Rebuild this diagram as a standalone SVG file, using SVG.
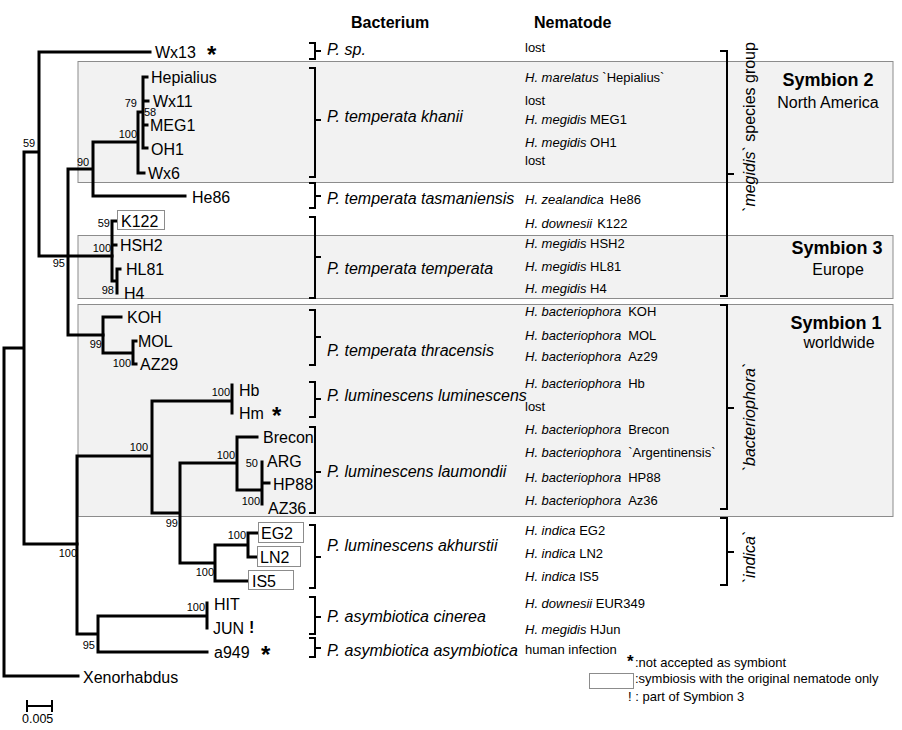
<svg xmlns="http://www.w3.org/2000/svg" width="902" height="730" viewBox="0 0 902 730">
<style>
text{font-family:"Liberation Sans",Arial,sans-serif;fill:#000}
.tip{font-size:16px}
.bs{font-size:11px}
.bsr{font-size:11px;text-anchor:end}
.hdr{font-size:16px;font-weight:bold}
.bac{font-size:16px;font-style:italic}
.nem{font-size:13px}
.it{font-style:italic}
.sym{font-size:18px;font-weight:bold;text-anchor:middle}
.reg{font-size:16px;text-anchor:middle}
.rot{font-size:16px;text-anchor:middle}
.leg{font-size:13px}
.ast{font-size:24px;font-weight:bold}
.gbox{fill:#f2f2f2;stroke:#8c8c8c;stroke-width:1}
.wbox{fill:#fff;stroke:#8c8c8c;stroke-width:1}
.br{fill:none;stroke:#000;stroke-width:3;stroke-linecap:square}
.brk{fill:none;stroke:#000;stroke-width:2}
</style>
<rect width="902" height="730" fill="#fff"/>
<g id="groups">
<rect class="gbox" x="78" y="61.5" width="815" height="121"/>
<rect class="gbox" x="78" y="235.5" width="815" height="63"/>
<rect class="gbox" x="78" y="304.5" width="815" height="212"/>
</g>
<g id="connectors">
<path class="br" d="M4,348V676M4,348H24M4,676H78M24,152V544M24,152H39M24,544H77M39,52V256M39,52H150M39,256H112M68,169V335M68,169H93M68,335H103M93,142V196M93,142H138M93,196H185M138,112V173M138,112H143M138,173H144M143,77V148M143,77H147M143,101H148M143,125H147M143,148H147"/>
<path class="br" d="M112,221V281M112,221H116M112,245H116M112,281H117M117,269V293M117,269H120M103,317V353M103,317H121M103,353H133M133,341V364M133,341H136M133,364H136"/>
<path class="br" d="M77,456V634M77,456H152M77,634H98M152,401V513M152,401H232M152,513H180M232,385V413M180,463V563M180,463H237M180,563H215M237,437V490M237,437H257M237,490H262M262,462V504M262,483H269M215,545V581M215,545H248M215,581H248M248,533V557M248,533H258M248,557H258M98,616V652M98,616H207M98,652H207M207,603V628"/>
<path class="brk" d="M27,706H52M27,700V712M52,700V712"/>
<path class="brk" d="M309,43H315V59H309M315,51H321 M309,68H315V177H309M315,120H321 M309,183H315V208H309M315,196H321 M309,217H315V298H309M315,257H321 M309,310H315V365H309M315,337H321 M309,382H315V417H309M315,399H321 M309,427H315V513H309M315,472H321 M309,525H315V588H309M315,557H321 M309,597H315V634H309M315,617H321 M309,638H315V657H309M315,648H321"/>
<path class="brk" d="M720,51H727V296H720M727,174H734 M720,305H727V509H720M727,408H734 M720,518H727V585H720M727,552H734"/>
</g>
<g id="bootstrap">
<text class="bs" x="23" y="147">59</text>
<text class="bs" x="77" y="166">90</text>
<text class="bsr" x="137" y="138">100</text>
<text class="bsr" x="137" y="107">79</text>
<text class="bs" x="144" y="116">58</text>
<text class="bsr" x="65" y="267">95</text>
<text class="bsr" x="110" y="227">59</text>
<text class="bsr" x="111" y="252">100</text>
<text class="bsr" x="114" y="294">98</text>
<text class="bsr" x="102" y="348">99</text>
<text class="bsr" x="131" y="367">100</text>
<text class="bsr" x="230" y="396">100</text>
<text class="bsr" x="148" y="451">100</text>
<text class="bsr" x="235" y="459">100</text>
<text class="bsr" x="258" y="467">50</text>
<text class="bsr" x="260" y="505">100</text>
<text class="bsr" x="178" y="527">99</text>
<text class="bsr" x="246" y="539">100</text>
<text class="bsr" x="214" y="576">100</text>
<text class="bsr" x="77" y="557">100</text>
<text class="bsr" x="205" y="611">100</text>
<text class="bsr" x="95" y="649">95</text>
<text x="22" y="723" style="font-size:12.5px">0.005</text>
</g>
<g id="node-Wx13"><text class="tip" x="155" y="58">Wx13</text><text class="ast" x="207" y="63">*</text></g>
<g id="node-Hepialius"><text class="tip" x="151" y="83">Hepialius</text></g>
<g id="node-Wx11"><text class="tip" x="153" y="107">Wx11</text></g>
<g id="node-MEG1"><text class="tip" x="150" y="131">MEG1</text></g>
<g id="node-OH1"><text class="tip" x="151" y="155">OH1</text></g>
<g id="node-Wx6"><text class="tip" x="148" y="179">Wx6</text></g>
<g id="node-He86"><text class="tip" x="192" y="203">He86</text></g>
<g id="node-K122"><rect class="wbox" x="117.5" y="210.5" width="47" height="19"/><text class="tip" x="121" y="227">K122</text></g>
<g id="node-HSH2"><text class="tip" x="120" y="251">HSH2</text></g>
<g id="node-HL81"><text class="tip" x="126" y="275">HL81</text></g>
<g id="node-H4"><text class="tip" x="124" y="299">H4</text></g>
<g id="node-KOH"><text class="tip" x="127" y="323">KOH</text></g>
<g id="node-MOL"><text class="tip" x="138" y="347">MOL</text></g>
<g id="node-AZ29"><text class="tip" x="140" y="370">AZ29</text></g>
<g id="node-Hb"><text class="tip" x="239" y="396">Hb</text></g>
<g id="node-Hm"><text class="tip" x="239" y="419">Hm</text><text class="ast" x="272" y="424">*</text></g>
<g id="node-Brecon"><text class="tip" x="263" y="443">Brecon</text></g>
<g id="node-ARG"><text class="tip" x="267" y="467">ARG</text></g>
<g id="node-HP88"><text class="tip" x="273" y="490">HP88</text></g>
<g id="node-AZ36"><text class="tip" x="268" y="514">AZ36</text></g>
<g id="node-EG2"><rect class="wbox" x="258.5" y="522.5" width="45" height="20"/><text class="tip" x="261" y="539">EG2</text></g>
<g id="node-LN2"><rect class="wbox" x="257.5" y="546.5" width="43" height="20"/><text class="tip" x="260" y="563">LN2</text></g>
<g id="node-IS5"><rect class="wbox" x="248.5" y="570.5" width="45" height="19"/><text class="tip" x="252" y="587">IS5</text></g>
<g id="node-HIT"><text class="tip" x="214" y="610">HIT</text></g>
<g id="node-JUN"><text class="tip" x="213" y="634">JUN</text><text x="249" y="633" style="font-size:16px;font-weight:bold">!</text></g>
<g id="node-a949"><text class="tip" x="214" y="658">a949</text><text class="ast" x="261" y="663">*</text></g>
<g id="node-Xenorhabdus"><text class="tip" x="83" y="683">Xenorhabdus</text></g>
<g id="headers">
<text class="hdr" x="351" y="28">Bacterium</text>
<text class="hdr" x="534" y="28">Nematode</text>
</g>
<g id="bacteria">
<text class="bac" x="327" y="55">P. sp.</text>
<text class="bac" x="327" y="122">P. temperata khanii</text>
<text class="bac" x="327" y="204">P. temperata tasmaniensis</text>
<text class="bac" x="327" y="274">P. temperata temperata</text>
<text class="bac" x="327" y="356">P. temperata thracensis</text>
<text class="bac" x="327" y="401">P. luminescens luminescens</text>
<text class="bac" x="327" y="477">P. luminescens laumondii</text>
<text class="bac" x="327" y="551">P. luminescens akhurstii</text>
<text class="bac" x="327" y="622">P. asymbiotica cinerea</text>
<text class="bac" x="327" y="656">P. asymbiotica asymbiotica</text>
</g>
<g id="nematodes" class="nem">
<text class="nem" x="525" y="52">lost</text>
<text class="nem" x="525" y="82"><tspan class="it">H. marelatus</tspan> `Hepialius`</text>
<text class="nem" x="525" y="105">lost</text>
<text class="nem" x="525" y="124"><tspan class="it">H. megidis</tspan> MEG1</text>
<text class="nem" x="525" y="147"><tspan class="it">H. megidis</tspan> OH1</text>
<text class="nem" x="525" y="165">lost</text>
<text class="nem" x="525" y="204"><tspan class="it">H. zealandica</tspan><tspan dx="6">He86</tspan></text>
<text class="nem" x="525" y="228"><tspan class="it">H. downesii</tspan><tspan dx="5">K122</tspan></text>
<text class="nem" x="525" y="248"><tspan class="it">H. megidis</tspan> HSH2</text>
<text class="nem" x="525" y="271"><tspan class="it">H. megidis</tspan> HL81</text>
<text class="nem" x="525" y="293"><tspan class="it">H. megidis</tspan> H4</text>
<text class="nem" x="525" y="316"><tspan class="it">H. bacteriophora</tspan><tspan dx="7">KOH</tspan></text>
<text class="nem" x="525" y="340"><tspan class="it">H. bacteriophora</tspan><tspan dx="7">MOL</tspan></text>
<text class="nem" x="525" y="361"><tspan class="it">H. bacteriophora</tspan><tspan dx="7">Az29</tspan></text>
<text class="nem" x="525" y="388"><tspan class="it">H. bacteriophora</tspan><tspan dx="7">Hb</tspan></text>
<text class="nem" x="525" y="411">lost</text>
<text class="nem" x="525" y="434"><tspan class="it">H. bacteriophora</tspan><tspan dx="7">Brecon</tspan></text>
<text class="nem" x="525" y="457"><tspan class="it">H. bacteriophora</tspan><tspan dx="7">`Argentinensis`</tspan></text>
<text class="nem" x="525" y="482"><tspan class="it">H. bacteriophora</tspan><tspan dx="7">HP88</tspan></text>
<text class="nem" x="525" y="505"><tspan class="it">H. bacteriophora</tspan><tspan dx="7">Az36</tspan></text>
<text class="nem" x="525" y="535"><tspan class="it">H. indica</tspan> EG2</text>
<text class="nem" x="525" y="558"><tspan class="it">H. indica</tspan> LN2</text>
<text class="nem" x="525" y="581"><tspan class="it">H. indica</tspan> IS5</text>
<text class="nem" x="525" y="608"><tspan class="it">H. downesii</tspan> EUR349</text>
<text class="nem" x="525" y="634"><tspan class="it">H. megidis</tspan> HJun</text>
<text class="nem" x="525" y="654">human infection</text>
</g>
<g id="species-groups">
<text class="rot" x="755" y="127" transform="rotate(-90 755 127)"><tspan class="it">`megidis`</tspan> species group</text>
<text class="rot it" x="755" y="417" transform="rotate(-90 755 417)">`bacteriophora`</text>
<text class="rot it" x="755" y="557" transform="rotate(-90 755 557)">`indica`</text>
</g>
<g id="symbion-2"><text class="sym" x="828" y="86">Symbion 2</text><text class="reg" x="828" y="108">North America</text></g>
<g id="symbion-3"><text class="sym" x="837" y="254">Symbion 3</text><text class="reg" x="838" y="275">Europe</text></g>
<g id="symbion-1"><text class="sym" x="836" y="329">Symbion 1</text><text class="reg" x="839" y="348">worldwide</text></g>
<g id="legend">
<text x="627" y="667" style="font-size:17px;font-weight:bold">*</text>
<text class="leg" x="635" y="667">:not accepted as symbiont</text>
<rect class="wbox" x="589.5" y="673.5" width="44" height="15"/>
<text class="leg" x="635" y="683">:symbiosis with the original nematode only</text>
<text class="leg" x="628" y="701">! : part of Symbion 3</text>
</g>
</svg>
